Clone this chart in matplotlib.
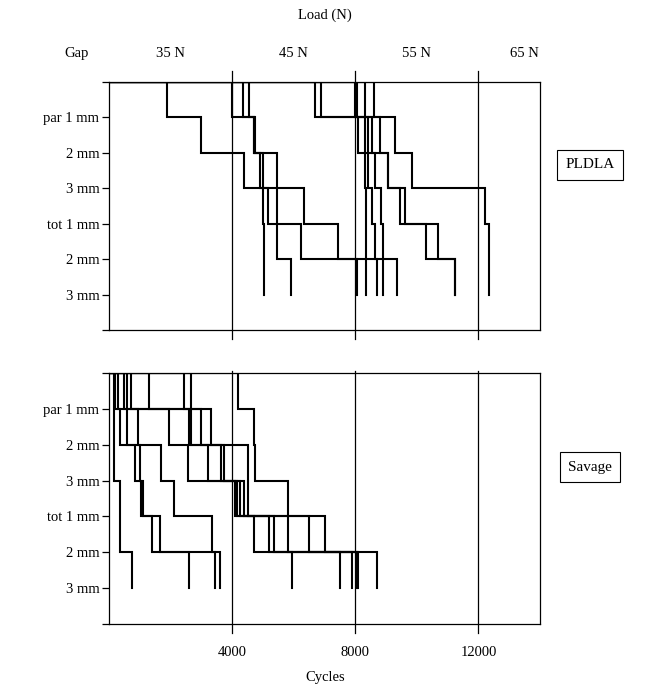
import numpy as np
import matplotlib.pyplot as plt
from matplotlib.transforms import blended_transform_factory

plt.rcParams["font.family"] = ["Liberation Serif", "DejaVu Serif"]

# cycles at which each specimen reached gap level 1..6
gap_labels = ["par 1 mm", "2 mm", "3 mm", "tot 1 mm", "2 mm", "3 mm"]
load_labels = ["35 N", "45 N", "55 N", "65 N"]
load_label_pos = [2000, 6000, 10000, 13500]
load_steps = [4000, 8000, 12000]

pldla = [
    [1900, 3000, 4400, 6350, 7450, 9350],
    [4000, 4700, 4900, 5000, 5050, 5050],
    [4350, 4700, 5000, 5150, 5450, 5900],
    [4550, 4750, 5450, 5450, 6250, 8050],
    [6700, 8100, 8300, 8350, 8350, 8350],
    [6900, 8300, 8400, 8550, 8650, 8700],
    [8000, 8400, 8650, 8850, 8900, 8900],
    [8050, 8550, 9050, 9450, 10300, 11250],
    [8300, 8800, 9050, 9600, 10700, 11250],
    [8600, 9300, 9850, 12200, 12350, 12350],
]

savage = [
    [150, 150, 150, 350, 350, 750],
    [200, 350, 850, 1050, 1400, 2600],
    [300, 600, 1000, 1100, 1650, 3450],
    [500, 950, 1700, 2100, 3350, 3600],
    [600, 1950, 2550, 4100, 4700, 5950],
    [700, 2600, 3200, 4150, 5200, 7500],
    [1300, 2650, 3750, 4250, 5350, 7900],
    [2450, 3000, 3650, 4400, 5800, 8050],
    [2650, 3300, 4500, 4500, 6500, 8100],
    [4200, 4700, 4750, 5800, 7000, 8700],
]

W, H = 650, 691
fig = plt.figure(figsize=(W / 100, H / 100), dpi=100)


def px_axes(left, top, right, bottom):
    return fig.add_axes([left / W, 1 - bottom / H, (right - left) / W, (bottom - top) / H])


def draw_panel(ax, specimens, name, name_y):
    for times in specimens:
        x = [0] + times
        y = list(range(len(x)))
        ax.step(x, y, where="post", color="black", lw=1.5, solid_joinstyle="miter")
    for s in load_steps:
        ax.axvline(s, ymin=-0.035, ymax=1.045 if ax is ax_top else 1.008,
                   color="black", lw=0.9, clip_on=False)
    ax.set_xlim(0, 14000)
    ax.set_ylim(7, 0)
    ax.set_yticks(range(8))
    ax.set_yticklabels([""] + gap_labels + [""], fontsize=10.5)
    ax.tick_params(axis="y", direction="out", length=5, width=0.9, pad=2)
    for sp in ax.spines.values():
        sp.set_linewidth(0.9)
    fig.text(590 / W, 1 - name_y / H, name, ha="center", va="center", fontsize=11,
             bbox=dict(boxstyle="square,pad=0.55", fc="white", ec="black", lw=0.8))


ax_top = px_axes(109, 82, 540, 330)
ax_bot = px_axes(109, 373, 540, 624)

draw_panel(ax_top, pldla, "PLDLA", 165)
draw_panel(ax_bot, savage, "Savage", 467)

ax_top.set_xticks([])
ax_bot.set_xticks(load_steps)
ax_bot.set_xticklabels([str(s) for s in load_steps], fontsize=10.5)
ax_bot.tick_params(axis="x", length=0, pad=16)

tr = blended_transform_factory(ax_top.transData, ax_top.transAxes)
for lab, pos in zip(load_labels, load_label_pos):
    ax_top.text(pos, 1.115, lab, transform=tr, ha="center", va="center", fontsize=10.5)

fig.text(77 / W, 1 - 53 / H, "Gap", ha="center", va="center", fontsize=10.5)
fig.text(325 / W, 1 - 15 / H, "Load (N)", ha="center", va="center", fontsize=10.5)
fig.text(325 / W, 1 - 678 / H, "Cycles", ha="center", va="center", fontsize=10.5)

fig.savefig("out.png", dpi=100)
